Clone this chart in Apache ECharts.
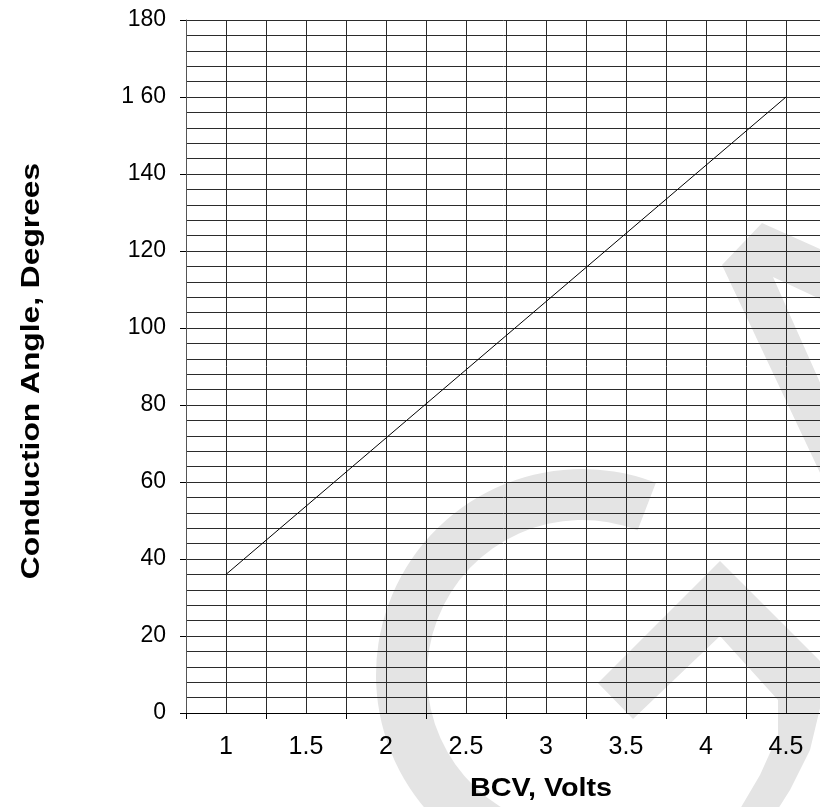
<!DOCTYPE html>
<html>
<head>
<meta charset="utf-8">
<title>Conduction Angle vs BCV</title>
<script src="https://cdn.jsdelivr.net/npm/echarts@6/dist/echarts.min.js"></script>
<style>
html, body { margin: 0; padding: 0; background: #fff; }
#chart { width: 820px; height: 807px; }
</style>
</head>
<body>
<div id="chart"></div>
<script>
// x 轴分类标签 (BCV, Volts)
var bcvLabels = ['1', '1.5', '2', '2.5', '3', '3.5', '4', '4.5'];
// y 轴刻度标签 (原图 160 印成 "1 60")
var angleLabels = ['0', '20', '40', '60', '80', '100', '120', '140', '1 60', '180'];
// 曲线两个端点
var bcv = [1, 4.5];
var angle = [36, 160];

var lineData = bcv.map(function (v, i) { return [v, angle[i]]; });

var myChart = echarts.init(document.getElementById('chart'));
var font = '"Liberation Sans", Arial, Helvetica, sans-serif';
var gridColor = '#2b2b2b';
var markColor = '#e4e4e4';

var option = {
    backgroundColor: '#fff',
    animation: false,
    // 绘图区右侧超出画布（原图被裁掉）
    grid: { left: 186, top: 20, width: 640, height: 693, outerBoundsMode: 'none', containLabel: false },
    xAxis: [{
        // 数值轴：负责画线和竖向网格
        type: 'value',
        min: 0.75,
        max: 4.75,
        interval: 0.25,
        axisLine: { show: false },
        axisTick: { show: false },
        axisLabel: { show: false },
        splitLine: { show: true, lineStyle: { color: gridColor, width: 1 } }
    }, {
        // 分类轴：负责标签和刻度
        type: 'category',
        position: 'bottom',
        data: bcvLabels,
        boundaryGap: true,
        axisLine: { show: true, lineStyle: { color: '#000', width: 1 } },
        axisTick: { show: true, length: 6, lineStyle: { color: '#000' } },
        axisLabel: { interval: 0, fontSize: 25, color: '#000', margin: 22, fontFamily: font },
        splitLine: { show: false }
    }],
    yAxis: {
        type: 'value',
        min: 0,
        max: 180,
        interval: 20,
        axisLine: { show: true, lineStyle: { color: '#555' } },
        axisTick: { show: true, length: 6, lineStyle: { color: '#000' } },
        axisLabel: {
            fontSize: 23, color: '#000', margin: 20, fontFamily: font,
            formatter: function (v) { return angleLabels[Math.round(v / 20)]; }
        },
        splitLine: { show: true, lineStyle: { color: gridColor } },
        minorTick: { show: false, splitNumber: 5 },
        minorSplitLine: { show: true, lineStyle: { color: gridColor } }
    },
    graphic: [
        // 背景水印
        {
            type: 'sector', z: -10, silent: true,
            shape: { cx: 582, cy: 675, r: 206, r0: 155, startAngle: -4.36, endAngle: -1.204, clockwise: true },
            style: { fill: markColor }
        },
        {
            type: 'polygon', z: -10, silent: true,
            shape: { points: [[762, 223], [822, 250], [822, 300], [773, 277], [822, 387], [822, 477], [722, 265]] },
            style: { fill: markColor }
        },
        {
            type: 'polygon', z: -10, silent: true,
            shape: { points: [[598, 683], [720, 561], [822, 663], [822, 700], [810, 750], [790, 790], [778, 809],
                [740, 809], [760, 775], [778, 735], [778, 700], [720, 636], [633, 719]] },
            style: { fill: markColor }
        },
        // 坐标轴标题
        {
            type: 'text', x: 541, y: 789, scaleX: 1.15,
            style: { text: 'BCV, Volts', font: 'bold 25px ' + font, fill: '#000', align: 'center', verticalAlign: 'middle' }
        },
        {
            type: 'text', x: 32, y: 371, rotation: Math.PI / 2, scaleX: 1.27,
            style: { text: 'Conduction Angle, Degrees', font: 'bold 25px ' + font, fill: '#000', align: 'center', verticalAlign: 'middle' }
        }
    ],
    series: [{
        type: 'line',
        xAxisIndex: 0,
        data: lineData,
        symbol: 'none',
        z: 5,
        lineStyle: { color: '#000', width: 1 }
    }]
};
myChart.setOption(option);
</script>
</body>
</html>
